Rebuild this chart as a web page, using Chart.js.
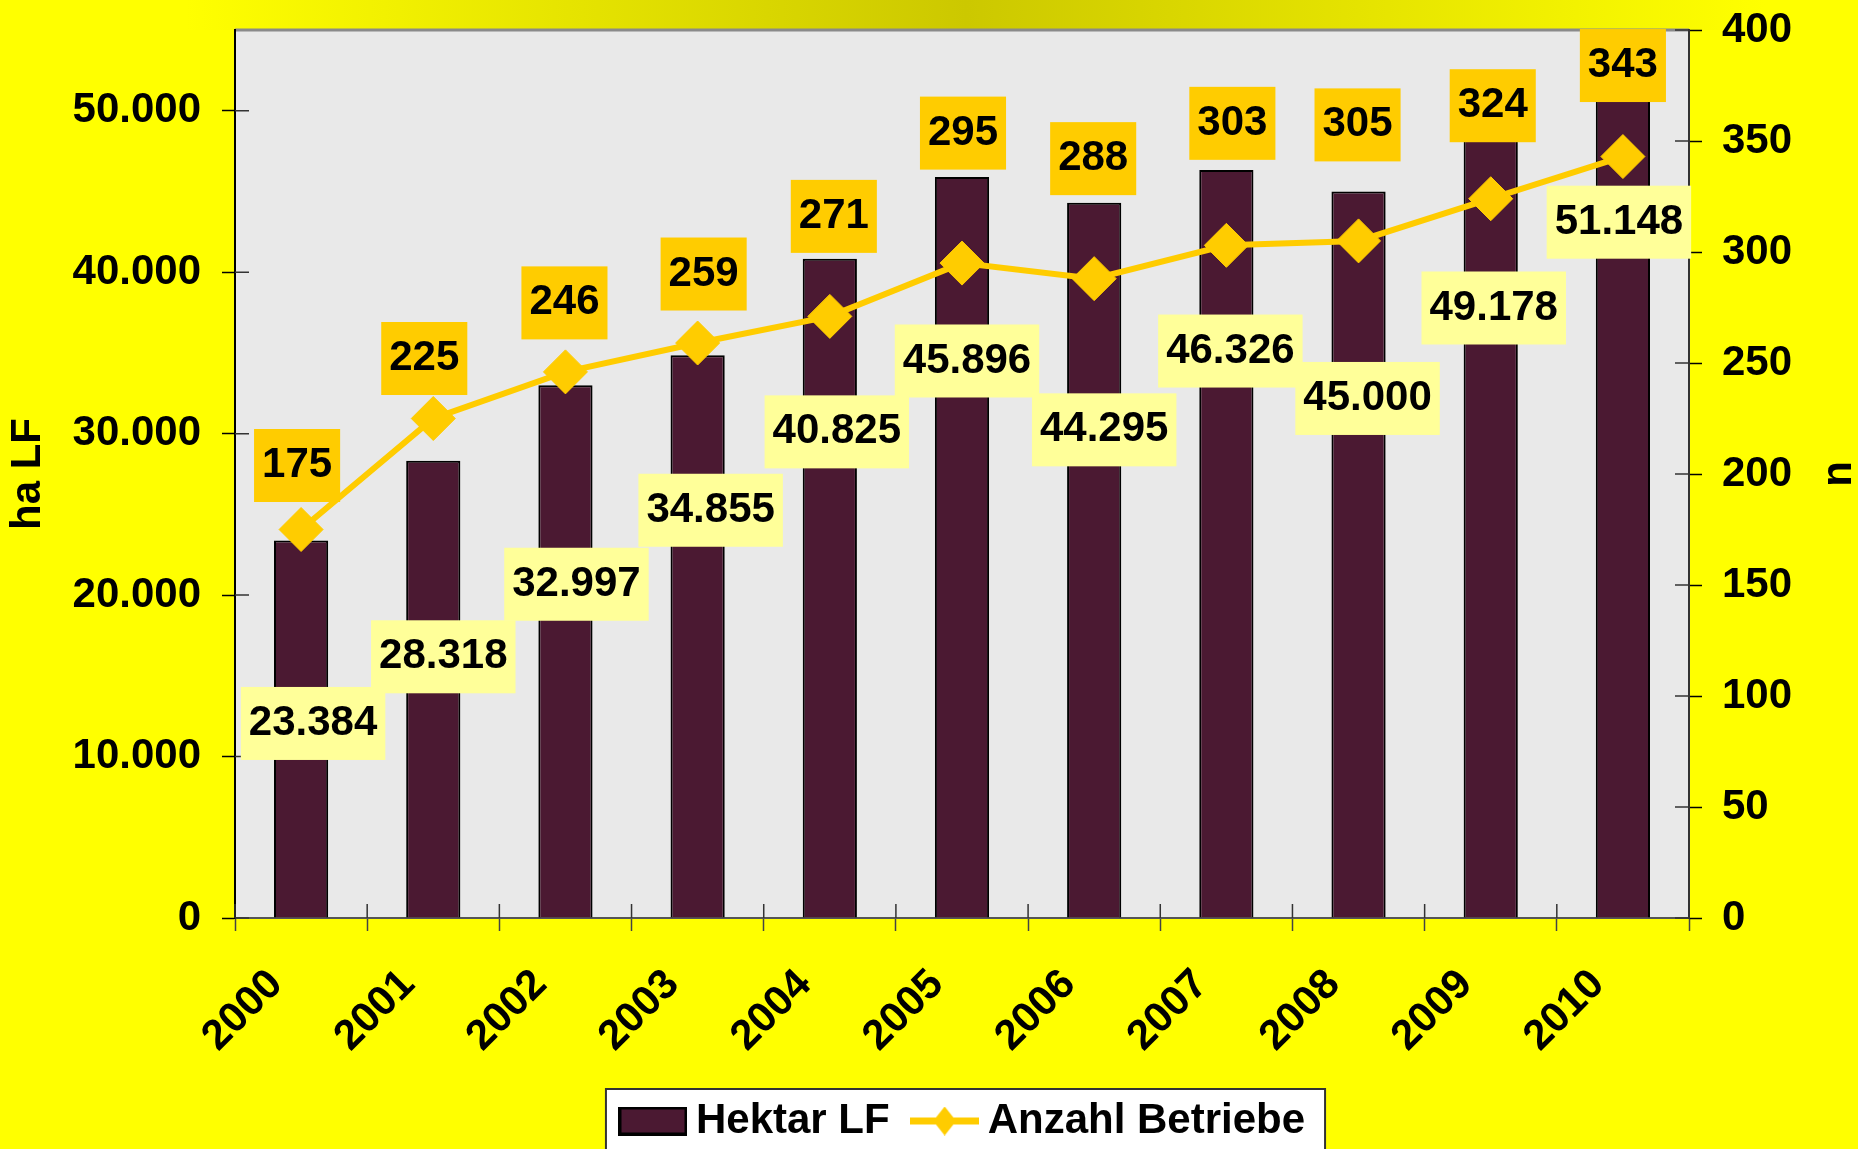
<!DOCTYPE html>
<html lang="de">
<head>
<meta charset="UTF-8">
<title>Hektar LF und Anzahl Betriebe 2000-2010</title>
<script src="https://cdn.jsdelivr.net/npm/chart.js@4.4.0"></script>
<style>
  html, body { margin: 0; padding: 0; background: #ffff00; overflow: hidden; }
  #wrap { position: relative; width: 1858px; height: 1149px; }
</style>
</head>
<body>
<div id="wrap"><canvas id="chart"></canvas></div>
<script>
// --- data ---
const years = ['2000', '2001', '2002', '2003', '2004', '2005', '2006', '2007', '2008', '2009', '2010'];
const hektar = [23384, 28318, 32997, 34855, 40825, 45896, 44295, 46326, 45000, 49178, 51148];
const betriebe = [175, 225, 246, 259, 271, 295, 288, 303, 305, 324, 343];
const leftTicks = [0, 10000, 20000, 30000, 40000, 50000];
const rightTicks = [0, 50, 100, 150, 200, 250, 300, 350, 400];

// label box offsets (px) from bar top / line point, hand placed like in the original
const barLabelDx = [12, 10, 11, 13, 7, 5, 10, 4, 9, 3, -4];
const barLabelDy = [183, 196, 199, 155, 173, 184, 227, 181, 207, 184, 130];
const lineLabelDx = [-4, -9, -1, 6, 4, 1, -1, 6, -1, 2, 0];
const lineLabelDy = [-64, -60, -69, -69, -100, -130, -120, -122, -116, -93, -91];

const FONT = '"Liberation Sans", Arial, sans-serif';
const BAR_COLOR = '#4B1932';
const LINE_COLOR = '#FFCC00';
const LEGEND_SHIFT = 6;

const fmt = v => String(v).replace(/\B(?=(\d{3})+(?!\d))/g, '.');

function barSwatch() {
    const c = document.createElement('canvas');
    c.width = 69; c.height = 29;
    const g = c.getContext('2d');
    g.fillStyle = '#000'; g.fillRect(0, 0, 69, 29);
    g.fillStyle = BAR_COLOR; g.fillRect(3, 3, 63, 23);
    return c;
}
function lineSwatch() {
    const c = document.createElement('canvas');
    c.width = 69; c.height = 29;
    const g = c.getContext('2d');
    g.fillStyle = LINE_COLOR;
    g.fillRect(0, 11, 69, 7);
    g.beginPath();
    g.moveTo(34.5, 0); g.lineTo(46, 14.5); g.lineTo(34.5, 29); g.lineTo(23, 14.5);
    g.closePath(); g.fill();
    return c;
}
const swatches = [barSwatch(), lineSwatch()];

const background = {
    id: 'background',
    afterLayout(chart) {
        // nudge the legend a little to the right, as in the original
        const lg = chart.legend;
        lg.left += LEGEND_SHIFT;
        lg.right += LEGEND_SHIFT;
        lg.legendHitBoxes.forEach(h => { h.left += LEGEND_SHIFT; });
    },
    beforeDraw(chart) {
        const {ctx, width, height, chartArea: a} = chart;
        ctx.save();
        ctx.fillStyle = '#FFFF00';
        ctx.fillRect(0, 0, width, height);
        const g = ctx.createLinearGradient(0, 0, width, 0);
        g.addColorStop(0.1, '#FFFF00');
        g.addColorStop(0.52, '#CCC800');
        g.addColorStop(0.95, '#FFFF00');
        ctx.fillStyle = g;
        ctx.fillRect(0, 0, width, a.top);
        ctx.fillStyle = '#E9E9E9';
        ctx.fillRect(a.left, a.top, a.right - a.left, a.bottom - a.top);
        ctx.strokeStyle = '#8A8A8A';
        ctx.lineWidth = 3;
        ctx.beginPath();
        ctx.moveTo(a.left, a.top); ctx.lineTo(a.right, a.top);
        ctx.stroke();

        // white legend frame
        const hb = chart.legend.legendHitBoxes;
        if (hb && hb.length) {
            const last = hb[hb.length - 1];
            const x0 = hb[0].left - 25, x1 = last.left + last.width + 20, y0 = hb[0].top - 11;
            ctx.fillStyle = '#FFFFFF';
            ctx.fillRect(x0, y0, x1 - x0, height - y0 + 10);
            ctx.strokeStyle = '#333';
            ctx.lineWidth = 2;
            ctx.strokeRect(x0, y0, x1 - x0, height - y0 + 10);
        }
        ctx.restore();
    },
    beforeDatasetsDraw(chart) {
        // inner halves of the crossing tick marks
        const {ctx, chartArea: a, scales} = chart;
        ctx.save();
        ctx.strokeStyle = '#333';
        ctx.lineWidth = 1.5;
        ctx.beginPath();
        leftTicks.forEach(v => {
            const py = scales.y.getPixelForValue(v);
            ctx.moveTo(a.left, py); ctx.lineTo(a.left + 14, py);
        });
        rightTicks.forEach(v => {
            const py = scales.y1.getPixelForValue(v);
            ctx.moveTo(a.right - 14, py); ctx.lineTo(a.right, py);
        });
        const half = (scales.x.getPixelForValue(1) - scales.x.getPixelForValue(0)) / 2;
        for (let k = 0; k <= years.length; k++) {
            const px = scales.x.getPixelForValue(Math.min(k, years.length - 1)) + (k < years.length ? -half : half);
            ctx.moveTo(px, a.bottom); ctx.lineTo(px, a.bottom - 14);
        }
        ctx.stroke();
        ctx.restore();
    },
    afterDraw(chart) {
        // right axis title reads bottom-to-top like the left one
        const {ctx} = chart;
        const s = chart.scales.y1;
        ctx.save();
        ctx.translate(s.right - 19, (s.top + s.bottom) / 2);
        ctx.rotate(-Math.PI / 2);
        ctx.font = 'bold 42px ' + FONT;
        ctx.fillStyle = '#000';
        ctx.textAlign = 'center';
        ctx.textBaseline = 'middle';
        ctx.fillText('n', 0, 0);
        ctx.restore();
    }
};

const boxLabels = {
    id: 'boxLabels',
    afterDatasetsDraw(chart) {
        const ctx = chart.ctx;
        ctx.save();
        ctx.font = 'bold 42px ' + FONT;
        ctx.textAlign = 'center';
        ctx.textBaseline = 'middle';
        const draw = (x, y, text, fill) => {
            const w = ctx.measureText(text).width + 16;
            const h = 73;
            ctx.fillStyle = fill;
            ctx.fillRect(x - w / 2, y - h / 2, w, h);
            ctx.fillStyle = '#000';
            ctx.fillText(text, x, y);
        };
        chart.getDatasetMeta(0).data.forEach((bar, i) => {
            draw(bar.x + barLabelDx[i], bar.y + barLabelDy[i], fmt(hektar[i]), '#FFFF99');
        });
        chart.getDatasetMeta(1).data.forEach((pt, i) => {
            draw(pt.x + lineLabelDx[i], pt.y + lineLabelDy[i], String(betriebe[i]), '#FFCC00');
        });
        ctx.restore();
    }
};

const tickFont = {size: 42, weight: 'bold', family: FONT};
const noOverflow = s => { s.paddingTop = 0; s.paddingBottom = 0; };

new Chart(document.getElementById('chart'), {
    data: {
        labels: years,
        datasets: [
            {
                type: 'bar',
                label: 'Hektar LF',
                data: hektar,
                yAxisID: 'y',
                backgroundColor: BAR_COLOR,
                borderColor: '#000',
                borderWidth: 2,
                barPercentage: 0.41,
                categoryPercentage: 1,
                order: 2
            },
            {
                type: 'line',
                label: 'Anzahl Betriebe',
                data: betriebe,
                yAxisID: 'y1',
                borderColor: LINE_COLOR,
                backgroundColor: LINE_COLOR,
                borderWidth: 6,
                pointStyle: 'rectRot',
                pointRadius: 22,
                pointBorderWidth: 1,
                pointBackgroundColor: LINE_COLOR,
                pointBorderColor: LINE_COLOR,
                tension: 0,
                order: 1
            }
        ]
    },
    options: {
        responsive: true,
        maintainAspectRatio: false,
        animation: false,
        layout: { padding: { top: 30, left: 0, right: 0, bottom: 0 } },
        scales: {
            x: {
                offset: true,
                grid: { offset: true, drawOnChartArea: false, tickLength: 13, tickColor: '#444', tickWidth: 1.5 },
                border: { color: '#555', width: 2 },
                ticks: {
                    autoSkip: false, minRotation: 45, maxRotation: 45,
                    font: {size: 42, weight: 'bold', family: FONT}, color: '#000',
                    padding: 29, labelOffset: -25
                },
                afterFit(s) { s.height = 149; s.paddingLeft = 0; s.paddingRight = 0; }
            },
            y: {
                position: 'left',
                min: 0, max: 55000,
                afterBuildTicks(s) { s.ticks = leftTicks.map(v => ({value: v})); },
                ticks: { font: tickFont, color: '#000', padding: 21, callback: v => fmt(v) },
                grid: { drawOnChartArea: false, tickLength: 13, tickColor: '#000', tickWidth: 1.5 },
                border: { color: '#000', width: 2 },
                title: {
                    display: true, text: 'ha LF', color: '#000',
                    font: {size: 42, weight: 'bold', family: FONT, lineHeight: 1},
                    padding: {top: 7, bottom: 0}
                },
                afterFit(s) { s.width = 235; noOverflow(s); }
            },
            y1: {
                position: 'right',
                min: 0, max: 400,
                afterBuildTicks(s) { s.ticks = rightTicks.map(v => ({value: v})); },
                ticks: { font: tickFont, color: '#000', padding: 20 },
                grid: { drawOnChartArea: false, tickLength: 13, tickColor: '#000', tickWidth: 1.5 },
                border: { color: '#333', width: 2 },
                afterFit(s) { s.width = 169; noOverflow(s); }
            }
        },
        plugins: {
            tooltip: { enabled: false },
            legend: {
                position: 'bottom',
                fullSize: false,
                maxHeight: 82,
                labels: {
                    usePointStyle: true,
                    pointStyleWidth: 44,
                    padding: 33,
                    color: '#000',
                    font: {size: 42, weight: 'bold', family: FONT},
                    sort: (a, b) => a.datasetIndex - b.datasetIndex,
                    generateLabels(chart) {
                        const items = Chart.defaults.plugins.legend.labels.generateLabels(chart);
                        items.forEach(it => { it.pointStyle = swatches[it.datasetIndex]; });
                        return items;
                    }
                }
            }
        }
    },
    plugins: [background, boxLabels]
});
</script>
</body>
</html>
